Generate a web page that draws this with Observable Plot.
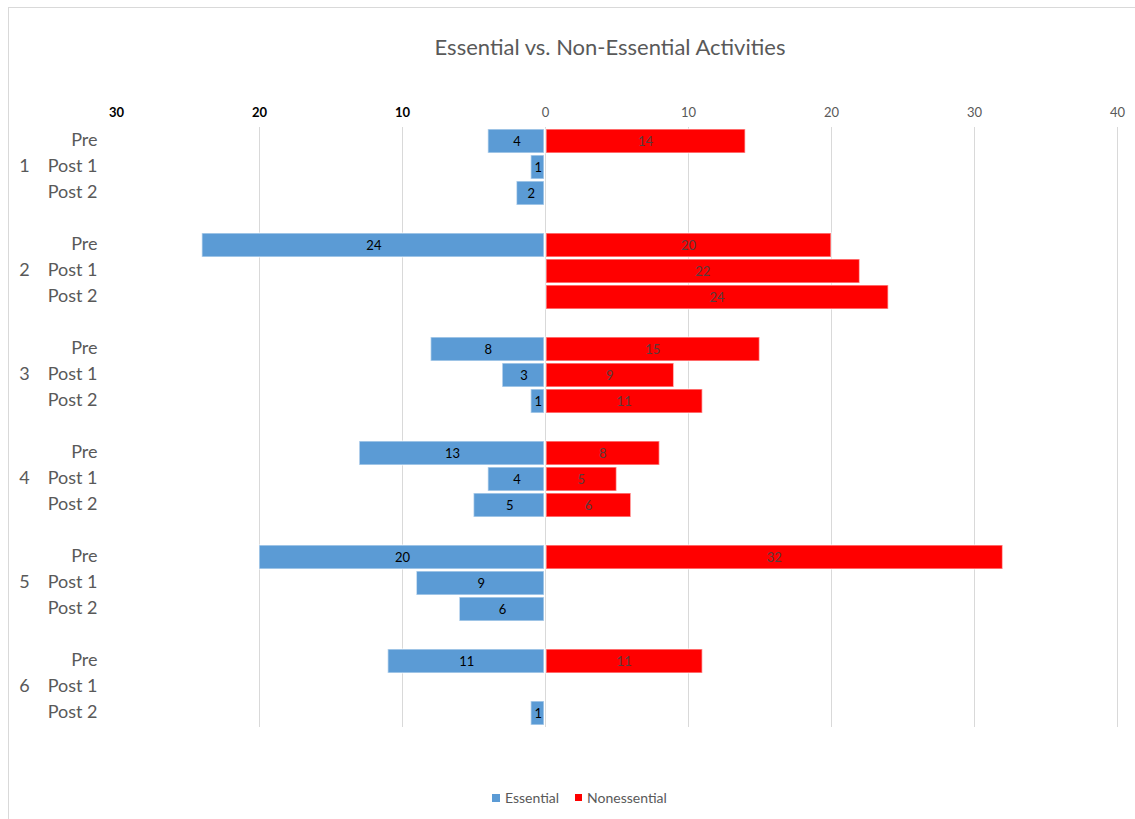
<!DOCTYPE html>
<html>
<head>
<meta charset="utf-8">
<script src="https://cdn.jsdelivr.net/npm/d3@7"></script>
<script src="https://cdn.jsdelivr.net/npm/@observablehq/plot@0.6"></script>
<style>
  html, body { margin: 0; padding: 0; background: #fff; }
  body { width: 1135px; height: 819px; position: relative; overflow: hidden; font-family: Lato, "Open Sans", sans-serif; }
  #frame { position: absolute; left: 8px; top: 7px; width: 1140px; height: 830px; border: 1px solid #d9d9d9; box-sizing: border-box; }
  #title { position: absolute; left: 0; width: 1220px; top: 33px; text-align: center; font-size: 22px; color: #595959; }
  #chart { position: absolute; left: 0; top: 0; }
  #legend { position: absolute; top: 789px; left: 492px; font-size: 14px; color: #595959; display: flex; align-items: center; }
  .sw { display: inline-block; width: 8px; height: 8px; margin-right: 5px; }
</style>
</head>
<body>
<div id="frame"></div>
<div id="chart"></div>
<div id="title">Essential vs. Non-Essential Activities</div>
<div id="legend">
  <span class="sw" style="background:#5b9bd5"></span><span>Essential</span>
  <span class="sw" style="background:#ff0000;margin-left:16px;width:7px;height:7px"></span><span>Nonessential</span>
</div>
<script>
const groups = ["1", "2", "3", "4", "5", "6"];
const phases = ["Pre", "Post 1", "Post 2"];
// values per group, in phase order [Pre, Post 1, Post 2]; null = no bar
const essential = [
  [4, 1, 2],
  [24, null, null],
  [8, 3, 1],
  [13, 4, 5],
  [20, 9, 6],
  [11, null, 1]
];
const nonessential = [
  [14, null, null],
  [20, 22, 24],
  [15, 9, 11],
  [8, 5, 6],
  [32, null, null],
  [11, null, null]
];
const leftTicks = [30, 20, 10];
const rightTicks = [0, 10, 20, 30, 40];

// build band domain with blank gap rows between groups
const domain = [];
groups.forEach((g, gi) => {
  phases.forEach(p => domain.push(g + "|" + p));
  if (gi < groups.length - 1) domain.push("gap" + g);
});

const rows = [];
groups.forEach((g, gi) => {
  phases.forEach((p, pi) => {
    rows.push({key: g + "|" + p, group: g, phase: p, pi, e: essential[gi][pi], n: nonessential[gi][pi]});
  });
});
const eRows = rows.filter(d => d.e != null && d.e > 0);
const nRows = rows.filter(d => d.n != null && d.n > 0);
const midRows = rows.filter(d => d.pi === 1);

const chart = Plot.plot({
  width: 1135,
  height: 819,
  marginLeft: 116,
  marginRight: 18,
  marginTop: 127,
  marginBottom: 92,
  style: {background: "transparent", fontFamily: "Lato, 'Open Sans', sans-serif"},
  x: {domain: [-30, 40], axis: null},
  y: {type: "band", domain, paddingInner: 0.08, paddingOuter: 0.04, axis: null},
  marks: [
    Plot.ruleX([-20, -10, 0, 10, 20, 30, 40], {stroke: "#d9d9d9", strokeWidth: 1}),
    Plot.barX(eRows, {y: "key", x1: 0, x2: d => -d.e, fill: "#5b9bd5", stroke: "#ffffff", strokeOpacity: 0.55, strokeWidth: 1.5, insetRight: 1}),
    Plot.barX(nRows, {y: "key", x1: 0, x2: "n", fill: "#ff0000", stroke: "#ffffff", strokeOpacity: 0.55, strokeWidth: 1.5, insetLeft: 1}),
    Plot.text(eRows, {y: "key", x: d => -d.e / 2, text: d => String(d.e), fill: "#000000", fontSize: 13}),
    Plot.text(nRows, {y: "key", x: d => d.n / 2, text: d => String(d.n), fill: "#5a3c3c", fontSize: 13}),
    // phase labels
    Plot.text(rows, {y: "key", x: -30, dx: -19, dy: -1, text: "phase", textAnchor: "end", fill: "#595959", fontSize: 18}),
    // group labels
    Plot.text(midRows, {y: "key", x: -30, dx: -92, dy: -1, text: "group", textAnchor: "middle", fill: "#595959", fontSize: 18}),
    // top axis labels
    Plot.text(leftTicks, {x: d => -d, frameAnchor: "top", dy: -20, text: d => String(d), fill: "#000000", fontWeight: "bold", fontSize: 13}),
    Plot.text(rightTicks, {x: d => d, frameAnchor: "top", dy: -20, text: d => String(d), fill: "#595959", fontSize: 13})
  ]
});
document.getElementById("chart").appendChild(chart);
</script>
</body>
</html>
